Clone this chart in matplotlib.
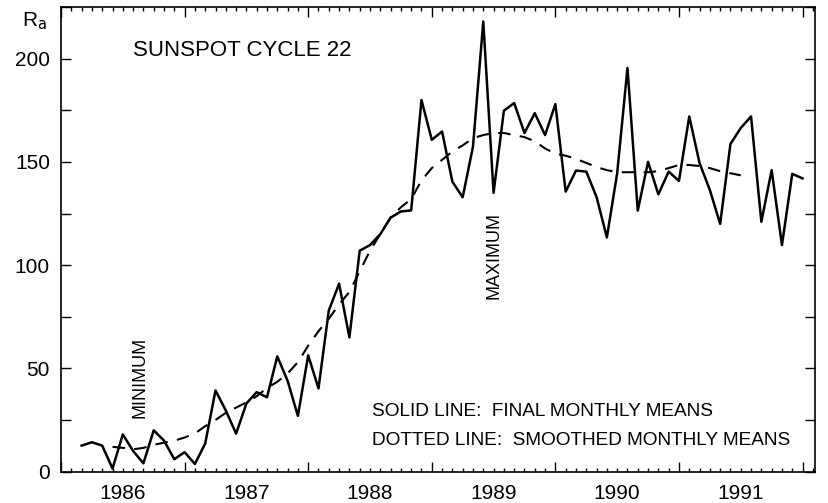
from matplotlib import pyplot as plt
from matplotlib.ticker import MultipleLocator
import numpy as np

plt.rcParams['font.family'] = ['Liberation Sans', 'DejaVu Sans']

# monthly means, March 1986 .. January 1992
start_month = 2   # months after 1986.0
final_means = [12.6, 14.2, 12.6, 1.5, 18, 10, 4, 20, 15, 6,
               9.4, 3.7, 13.6, 39.3, 29.6, 18.4, 33, 38.5, 36, 55.8,
               44, 27, 56.3, 40.3, 78, 91, 65, 107, 109.7, 115,
               123, 126, 126.5, 180, 160.7, 164.7, 140.4, 132.9, 157.4, 218,
               135, 174.8, 178.5, 164, 173.6, 163, 178, 135.6, 145.8, 145.3,
               133, 113.4, 144.5, 195.5, 126.4, 150, 134.3, 145.3, 140.8, 172,
               149.4, 136.4, 120, 158.7, 166.4, 172, 121, 146, 109.7, 144.2,
               142]

# smoothed means start 3 months after the first final mean
smooth_offset = 3
smoothed_means = [12, 11.5, 10.8, 11.5, 13, 14, 15, 16.5, 18.5, 22,
                  25, 28.5, 31, 33.5, 36.5, 40.5, 43.5, 47.5, 53, 61,
                  68, 74, 81, 87, 97, 107, 115, 123, 128, 132,
                  141, 147, 151, 155, 158, 161.5, 163, 164, 164, 163,
                  162, 160, 156.5, 154, 153, 151.5, 149.5, 147.5, 146, 145,
                  145, 145, 145, 145.5, 147, 148.5, 148.5, 148, 147, 145.5,
                  144.5, 143.5]

years = [1986, 1987, 1988, 1989, 1990, 1991]

t_final = 1986 + (start_month + np.arange(len(final_means))) / 12
t_smooth = 1986 + (start_month + smooth_offset + np.arange(len(smoothed_means))) / 12

fig = plt.figure(figsize=(8.29, 5.03), dpi=100)
ax = fig.add_axes([0.0736, 0.0624, 0.9094, 0.9236])

ax.plot(t_final, final_means, color='black', lw=1.8)
ax.plot(t_smooth, smoothed_means, color='black', lw=1.5, dashes=(6, 4.5))

ax.set_xlim(1986.0, 1992.1)
ax.set_ylim(0, 225)

ax.xaxis.set_major_locator(MultipleLocator(1))
ax.xaxis.set_minor_locator(MultipleLocator(1 / 12))
ax.yaxis.set_major_locator(MultipleLocator(50))
ax.yaxis.set_minor_locator(MultipleLocator(25))
ax.set_xticklabels([])
ax.tick_params(axis='both', which='both', direction='in', top=True, right=True,
               width=1.0, color='black')
ax.tick_params(axis='x', which='major', length=7)
ax.tick_params(axis='x', which='minor', length=3)
ax.tick_params(axis='y', which='both', length=7, labelsize=15, pad=8)
ax.yaxis.set_minor_formatter(plt.NullFormatter())
for s in ax.spines.values():
    s.set_linewidth(1.2)

# year labels centred in each year
for y in years:
    ax.text(y + 0.5, -0.047, str(y), transform=ax.get_xaxis_transform(),
            ha='center', va='center', fontsize=15)

fig.text(22 / 829, 1 - 21 / 503, r'R$_\mathrm{a}$', fontsize=15, va='center', ha='left')

ax.text(1986.58, 204, 'SUNSPOT CYCLE 22', fontsize=16, ha='left', va='center')
ax.text(1986.64, 45.8, 'MINIMUM', fontsize=13, rotation=90, ha='center', va='center')
ax.text(1989.50, 104.8, 'MAXIMUM', fontsize=13, rotation=90, ha='center', va='center')
ax.text(1988.516, 29.3, 'SOLID LINE:  FINAL MONTHLY MEANS', fontsize=13.7,
        ha='left', va='center')
ax.text(1988.516, 15.3, 'DOTTED LINE:  SMOOTHED MONTHLY MEANS', fontsize=13.7,
        ha='left', va='center')

plt.savefig('out.png', dpi=100)
